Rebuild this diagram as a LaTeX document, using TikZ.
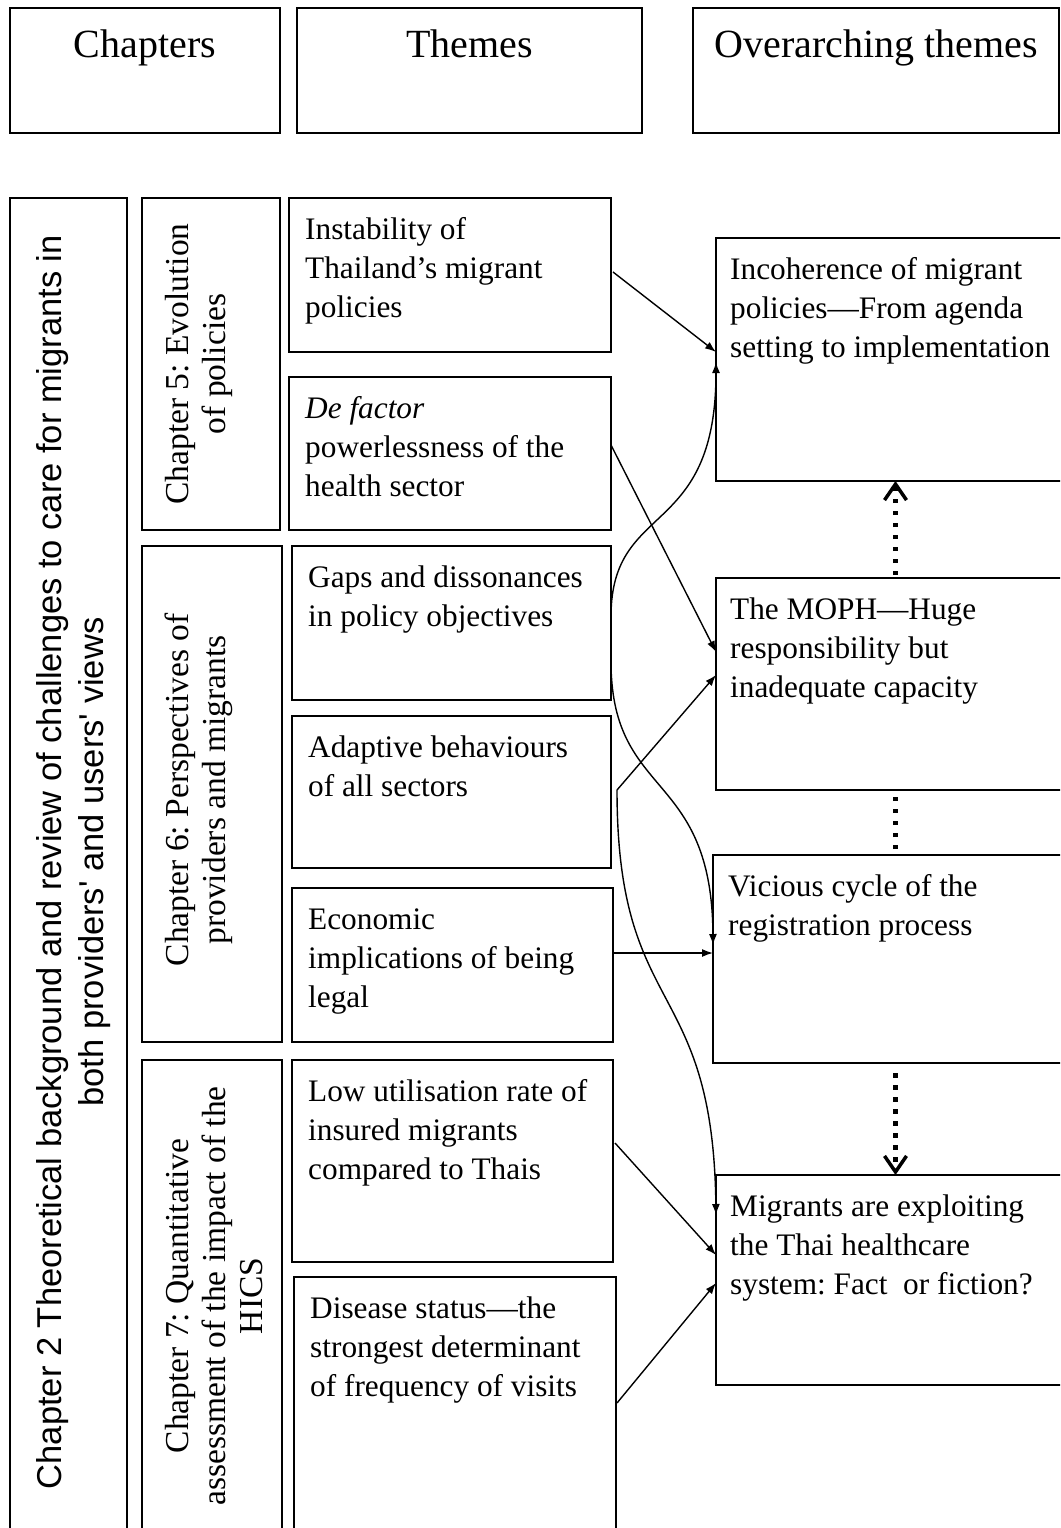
\documentclass[tikz,border=0pt]{standalone}
\usepackage{fontspec}
\setmainfont{Liberation Serif}
\newfontfamily\sansf{Liberation Sans}
\usetikzlibrary{arrows.meta}
\newcommand{\fl}{\rule{0pt}{25pt}}
\newcommand{\flr}{\rule{0pt}{27pt}}
\frenchspacing
\begin{document}
\frenchspacing
\begin{tikzpicture}[x=1pt,y=-1pt,
  bx/.style={draw, line width=2.2pt, inner sep=0pt, outer sep=0pt, anchor=north west},
  hd/.style={anchor=base, inner sep=0pt, font=\fontsize{40}{48}\selectfont},
  tt/.style={anchor=north west, inner sep=0pt, align=left, font=\fontsize{31.3}{39}\selectfont\frenchspacing},
  rt/.style={rotate=90, anchor=north, inner sep=0pt, align=center, font=\fontsize{33.5}{37}\selectfont\frenchspacing},
  rtsans/.style={rotate=90, anchor=north, inner sep=0pt, align=center, font=\sansf\fontsize{34.5}{42}\selectfont},
  conn/.style={line width=1.4pt, -{Latex[length=11pt,width=8pt]}},
  dotl/.style={line width=4.5pt, dash pattern=on 4.5pt off 7.5pt},
  dota/.style={dotl, -{Straight Barb[length=16pt,width=22pt,line width=3.5pt]}}]
\clip (0,0) rectangle (1060,1528);
\fill[white] (0,0) rectangle (1060,1528);

% header boxes
\node[bx, minimum width=270pt, minimum height=125pt] (hch) at (10,8) {};
\node[bx, minimum width=345pt, minimum height=125pt] (hth) at (297,8) {};
\node[bx, minimum width=366pt, minimum height=125pt] (hov) at (693,8) {};
\node[hd] (hchT) at (145,58) {Chapters};
\node[hd] (hthT) at (469.5,58) {Themes};
\node[hd] (hovT) at (876,57) {Overarching themes};

% chapter boxes
\node[bx, minimum width=117pt, minimum height=1342pt] (c2) at (10,198) {};
\node[bx, minimum width=138pt, minimum height=332pt] (c5) at (142,198) {};
\node[bx, minimum width=140pt, minimum height=496pt] (c6) at (142,546) {};
\node[bx, minimum width=140pt, minimum height=480pt] (c7) at (142,1060) {};

\node[rtsans] (c2T) at (33,862) {\rule{0pt}{28pt}Chapter 2 Theoretical background and review of challenges to care for migrants in\\both providers' and users' views};
\node[rt] (c5T) at (161,364) {\flr Chapter 5: Evolution\\of policies};
\node[rt] (c6T) at (161,790) {\flr Chapter 6: Perspectives of\\providers and migrants};
\node[rt] (c7T) at (161,1296) {\flr Chapter 7: Quantitative\\assessment of the impact of the\\HICS};

% theme boxes
\node[bx, minimum width=322pt, minimum height=154pt] (t1) at (289,198) {};
\node[bx, minimum width=322pt, minimum height=153pt] (t2) at (289,377) {};
\node[bx, minimum width=319pt, minimum height=154pt] (t3) at (292,546) {};
\node[bx, minimum width=319pt, minimum height=152pt] (t4) at (292,716) {};
\node[bx, minimum width=321pt, minimum height=154pt] (t5) at (292,888) {};
\node[bx, minimum width=321pt, minimum height=202pt] (t6) at (292,1060) {};
\node[bx, minimum width=322pt, minimum height=263pt] (t7) at (294,1277) {};

\node[tt] (t1T) at (305,214) {\fl Instability of\\Thailand's migrant\\policies};
\node[tt] (t2T) at (305,393) {\fl\textit{De factor}\\powerlessness of the\\health sector};
\node[tt] (t3T) at (308,562) {\fl Gaps and dissonances\\in policy objectives};
\node[tt] (t4T) at (308,732) {\fl Adaptive behaviours\\of all sectors};
\node[tt] (t5T) at (308,904) {\fl Economic\\implications of being\\legal};
\node[tt] (t6T) at (308,1076) {\fl Low utilisation rate of\\insured migrants\\compared to Thais};
\node[tt] (t7T) at (310,1293) {\fl Disease status---the\\strongest determinant\\of frequency of visits};

% overarching boxes
\node[bx, minimum width=359pt, minimum height=243pt] (o1) at (716,238) {};
\node[bx, minimum width=359pt, minimum height=212pt] (o2) at (716,578) {};
\node[bx, minimum width=362pt, minimum height=208pt] (o3) at (713,855) {};
\node[bx, minimum width=359pt, minimum height=210pt] (o4) at (716,1175) {};

\node[tt] (o1T) at (730,254) {\fl Incoherence of migrant\\policies---From agenda\\setting to implementation};
\node[tt] (o2T) at (730,594) {\fl The MOPH---Huge\\responsibility but\\inadequate capacity};
\node[tt] (o3T) at (728,871) {\fl Vicious cycle of the\\registration process};
\node[tt] (o4T) at (730,1191) {\fl Migrants are exploiting\\the Thai healthcare\\system: Fact\ \ or fiction?};

% connectors
\draw[conn] ([shift={(2,74)}]t1.north east) -- ([shift={(0,114)}]o1.north west);
\draw[conn] ([shift={(0,68)}]t2.north east) -- ([shift={(0,74)}]o2.north west);
\draw[conn] ([shift={(0,69)}]t3.north east) .. controls (612,500) and (716,540) .. ([shift={(0,124)}]o1.north west);
\draw[conn] ([shift={(0,119)}]t3.north east) .. controls (613,800) and (712,770) .. ([shift={(0,90)}]o3.north west);
\draw[conn] ([shift={(6,74)}]t4.north east) -- ([shift={(0,97)}]o2.north west);
\draw[conn] ([shift={(6,74)}]t4.north east) .. controls (617,1020) and (713,975) .. ([shift={(0,40)}]o4.north west);
\draw[conn] ([shift={(0,65)}]t5.north east) -- ([shift={(0,98)}]o3.north west);
\draw[conn] ([shift={(2,83)}]t6.north east) -- ([shift={(0,80)}]o4.north west);
\draw[conn] ([shift={(1,126)}]t7.north east) -- ([shift={(0,108)}]o4.north west);

% dotted links
\draw[dota] ([shift={(0,-3)}]o2.north) -- (o2.north |- o1.south);
\draw[dotl] ([shift={(0,-6)}]o3.north -| o2.north) -- (o2.south);
\draw[dota] ([shift={(0,10)}]o3.south -| o2.north) -- (o2.north |- o4.north);
\end{tikzpicture}
\end{document}
